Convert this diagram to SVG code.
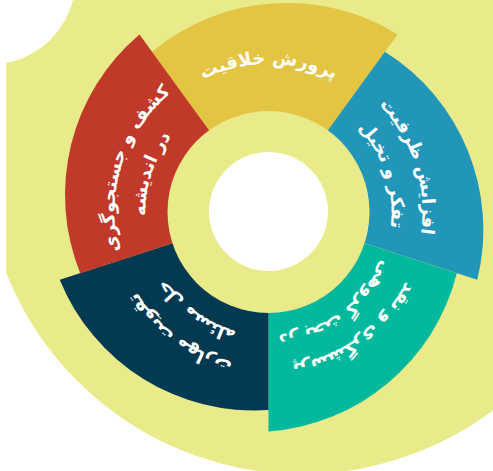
<svg xmlns="http://www.w3.org/2000/svg" width="493" height="471" viewBox="0 0 493 471">
  <defs>
    <style>
      .bg { fill: #E9EA8A; }
      .lbl { fill: #FFFFFF; font-family: "DejaVu Sans", "Noto Sans", sans-serif; font-size: 18px; font-weight: bold; }
    </style>
    <clipPath id="clipLeft"><rect x="6" y="0" width="487" height="471"/></clipPath>
    <path id="tY" d="M181.51,92.27 A148,148 0 0 1 355.49,92.27"/>
    <path id="tB1" d="M359.02,87.41 A154,154 0 0 1 414.96,259.59"/>
    <path id="tB2" d="M340.80,112.49 A123,123 0 0 1 385.48,250.01"/>
    <path id="tT1" d="M414.96,259.59 A154,154 0 0 1 268.5,366"/>
    <path id="tT2" d="M385.48,250.01 A123,123 0 0 1 268.5,335"/>
    <path id="tN1" d="M268.5,366 A154,154 0 0 1 122.04,259.59"/>
    <path id="tN2" d="M268.5,335 A123,123 0 0 1 151.52,250.01"/>
    <path id="tR1" d="M122.04,259.59 A154,154 0 0 1 177.98,87.41"/>
    <path id="tR2" d="M151.52,250.01 A123,123 0 0 1 196.20,112.49"/>
  </defs>

  <rect x="0" y="0" width="493" height="471" fill="#FFFFFF"/>
  <circle class="bg" cx="302" cy="156" r="318" clip-path="url(#clipLeft)"/>
  <circle cx="-9.7" cy="-20.8" r="85.2" fill="#FFFFFF"/>

  <g id="seg-yellow">
    <path d="M268.5,212 L152.12,51.81 A210,210 0 0 1 397.52,34.42 Z" fill="#E3C443"/>
    <text class="lbl"><textPath href="#tY" startOffset="50%" text-anchor="middle">پرورش خلاقیت</textPath></text>
  </g>
  <g id="seg-blue">
    <path d="M268.5,212 L384.88,51.81 A210,210 0 0 1 477.26,279.83 Z" fill="#2196B9"/>
    <text class="lbl"><textPath href="#tB1" startOffset="50%" text-anchor="middle">افزایش ظرفیت</textPath></text>
    <text class="lbl"><textPath href="#tB2" startOffset="50%" text-anchor="middle">تفکر و تخیل</textPath></text>
  </g>
  <g id="seg-teal">
    <path d="M268.5,212 L456.81,273.19 A210,210 0 0 1 268.5,431.5 Z" fill="#03B99D"/>
    <text class="lbl"><textPath href="#tT1" startOffset="50%" text-anchor="middle">پرسشگری و نقد</textPath></text>
    <text class="lbl"><textPath href="#tT2" startOffset="50%" text-anchor="middle">در بحث گروهی</textPath></text>
  </g>
  <g id="seg-navy">
    <path d="M268.5,212 L268.5,410 A210,210 0 0 1 59.74,279.83 Z" fill="#033A51"/>
    <text class="lbl"><textPath href="#tN1" startOffset="50%" text-anchor="middle">تقویت مهارت</textPath></text>
    <text class="lbl"><textPath href="#tN2" startOffset="50%" text-anchor="middle">حل مسئله</textPath></text>
  </g>
  <g id="seg-red">
    <path d="M268.5,212 L80.19,273.19 A210,210 0 0 1 139.48,34.42 Z" fill="#C13A29"/>
    <text class="lbl"><textPath href="#tR1" startOffset="50%" text-anchor="middle">کشف و جستجوگری</textPath></text>
    <text class="lbl"><textPath href="#tR2" startOffset="50%" text-anchor="middle">در اندیشه</textPath></text>
  </g>

  <g id="center">
    <circle cx="268.5" cy="212" r="101" fill="#E9EA8A"/>
    <circle cx="268.5" cy="211.5" r="59.5" fill="#FFFFFF"/>
  </g>
</svg>
